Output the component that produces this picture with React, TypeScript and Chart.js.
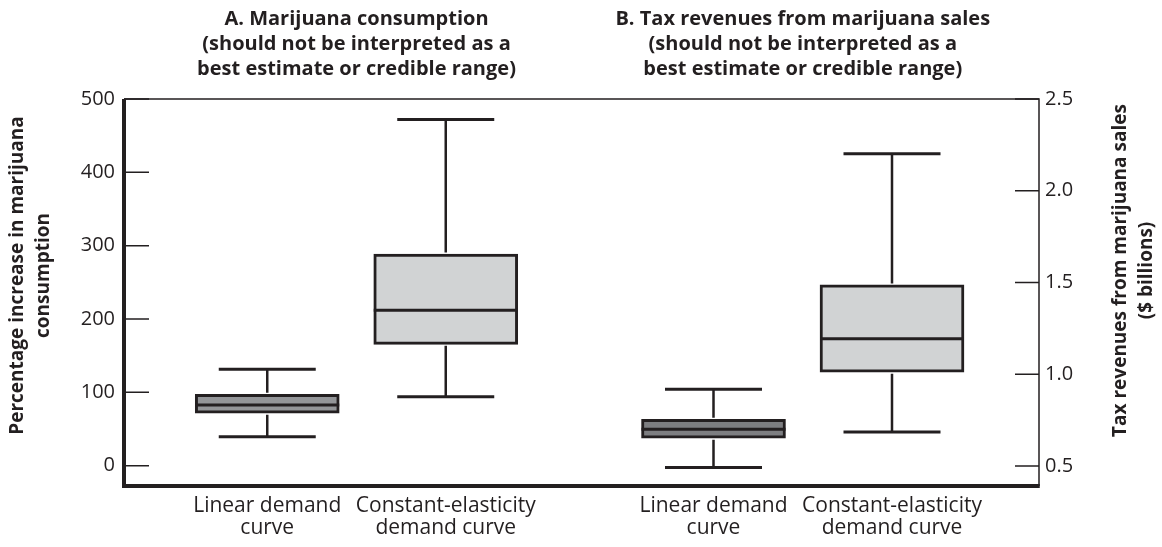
import { useEffect, useRef } from "react";
import { Chart, registerables } from "chart.js";

Chart.register(...registerables);

// ---- data ----
const categories: string[][] = [
  ["Linear demand", "curve"],
  ["Constant-elasticity", "demand curve"],
];
const panelTitles: string[][] = [
  ["A. Marijuana consumption", "(should not be interpreted as a", "best estimate or credible range)"],
  ["B. Tax revenues from marijuana sales", "(should not be interpreted as a", "best estimate or credible range)"],
];
const leftAxisTitle = ["Percentage increase in marijuana", "consumption"];
const rightAxisTitle = ["Tax revenues from marijuana sales", "($ billions)"];

// Panel A: percentage increase in consumption
const consumptionMin = [39.5, 94];
const consumptionQ1 = [71.5, 165.5];
const consumptionMedian = [82.8, 212];
const consumptionQ3 = [97.4, 288.7];
const consumptionMax = [131.5, 472];

// Panel B: tax revenues ($ billions)
const revenueMin = [0.492, 0.685];
const revenueQ1 = [0.651, 1.011];
const revenueMedian = [0.7, 1.193];
const revenueQ3 = [0.755, 1.487];
const revenueMax = [0.918, 2.202];

const leftTicks = [0, 100, 200, 300, 400, 500];
const rightTicks = [0.5, 1.0, 1.5, 2.0, 2.5];

// ---- layout / style ----
// category slots along the x axis (panel A uses slots 1 & 3, panel B slots 6 & 8)
const panelSlots = [
  [1, 3],
  [6, 8],
];
const X_MIN = -0.605;
const X_MAX = 9.647;
const INK = "#231f20";
const FONT = "'Open Sans', 'Noto Sans', sans-serif";
const fillsA = ["#939598", "#d1d3d4"];
const fillsB = ["#7d7e81", "#d1d3d4"];

type Box = { slot: number; axis: string; min: number; q1: number; med: number; q3: number; max: number };

const boxes: Box[] = [];
categories.forEach((_, i) => {
  boxes.push({
    slot: panelSlots[0][i], axis: "yL",
    min: consumptionMin[i], q1: consumptionQ1[i], med: consumptionMedian[i], q3: consumptionQ3[i], max: consumptionMax[i],
  });
});
categories.forEach((_, i) => {
  boxes.push({
    slot: panelSlots[1][i], axis: "yR",
    min: revenueMin[i], q1: revenueQ1[i], med: revenueMedian[i], q3: revenueQ3[i], max: revenueMax[i],
  });
});

const slotLabel: Record<number, string[]> = {};
panelSlots.forEach((slots) => slots.forEach((s, i) => (slotLabel[s] = categories[i])));
const xTickSlots = panelSlots.flat();

function panelData(p: number, q1: number[], q3: number[]) {
  return panelSlots[p].map((s, i) => ({ x: s, y: [q1[i], q3[i]] }));
}

const boxPlugin = {
  id: "boxExtras",
  afterDatasetsDraw(chart: any) {
    const ctx = chart.ctx;
    const xs = chart.scales.x;
    ctx.save();
    ctx.strokeStyle = INK;
    ctx.lineCap = "butt";
    boxes.forEach((b) => {
      const ys = chart.scales[b.axis];
      const cx = xs.getPixelForValue(b.slot);
      const half = 72;
      const capHalf = 48.5;
      const pMin = ys.getPixelForValue(b.min);
      const pMax = ys.getPixelForValue(b.max);
      const pQ1 = ys.getPixelForValue(b.q1);
      const pQ3 = ys.getPixelForValue(b.q3);
      const pMed = ys.getPixelForValue(b.med);
      ctx.lineWidth = 2.5;
      ctx.beginPath();
      ctx.moveTo(cx, pQ3 - 1.5);
      ctx.lineTo(cx, pMax);
      ctx.moveTo(cx, pQ1 + 1.5);
      ctx.lineTo(cx, pMin);
      ctx.stroke();
      ctx.lineWidth = 3;
      ctx.beginPath();
      ctx.moveTo(cx - capHalf, pMax);
      ctx.lineTo(cx + capHalf, pMax);
      ctx.moveTo(cx - capHalf, pMin);
      ctx.lineTo(cx + capHalf, pMin);
      ctx.moveTo(cx - half, pMed);
      ctx.lineTo(cx + half, pMed);
      ctx.stroke();
    });
    ctx.restore();
  },
  afterDraw(chart: any) {
    const ctx = chart.ctx;
    const { left, right, top, bottom } = chart.chartArea;
    const yL = chart.scales.yL;
    const yR = chart.scales.yR;
    const xs = chart.scales.x;
    ctx.save();
    ctx.strokeStyle = INK;
    // thin top & right frame
    ctx.lineWidth = 1.5;
    ctx.beginPath();
    ctx.moveTo(left, top);
    ctx.lineTo(right, top);
    ctx.lineTo(right, bottom);
    ctx.stroke();
    // inward ticks
    ctx.beginPath();
    yL.ticks.forEach((t: any) => {
      const y = yL.getPixelForValue(t.value);
      ctx.moveTo(left, y);
      ctx.lineTo(left + 25, y);
    });
    yR.ticks.forEach((t: any) => {
      const y = yR.getPixelForValue(t.value);
      ctx.moveTo(right - 24, y);
      ctx.lineTo(right, y);
    });
    ctx.stroke();
    // thick left & bottom axes
    ctx.lineWidth = 4;
    ctx.beginPath();
    ctx.moveTo(left, top);
    ctx.lineTo(left, bottom);
    ctx.lineTo(right + 0.75, bottom);
    ctx.stroke();

    // panel titles
    ctx.fillStyle = INK;
    ctx.font = `bold 20px ${FONT}`;
    ctx.textAlign = "center";
    ctx.textBaseline = "alphabetic";
    panelTitles.forEach((lines, p) => {
      const cx = (xs.getPixelForValue(panelSlots[p][0]) + xs.getPixelForValue(panelSlots[p][1])) / 2;
      lines.forEach((ln, i) => ctx.fillText(ln, cx, 25 + i * 25));
    });

    // rotated axis titles
    ctx.font = `bold 19px ${FONT}`;
    const drawRot = (lines: string[], cy: number, baseX: number) => {
      ctx.save();
      ctx.translate(0, cy);
      ctx.rotate(-Math.PI / 2);
      lines.forEach((ln, i) => ctx.fillText(ln, 0, baseX + i * 26));
      ctx.restore();
    };
    drawRot(leftAxisTitle, (top + bottom) / 2 - 17, left - 101);
    drawRot(rightAxisTitle, (top + bottom) / 2 - 22, right + 87);
    ctx.restore();
  },
};

export default function App() {
  const ref = useRef<HTMLCanvasElement | null>(null);
  useEffect(() => {
    if (!ref.current) return;
    const tickFont = { family: FONT, size: 20 };
    const barStyle = {
      borderColor: INK,
      borderWidth: 3,
      borderSkipped: false,
      barThickness: 144,
      grouped: false,
    };
    const chart = new Chart(ref.current, {
      type: "bar",
      data: {
        datasets: [
          {
            label: "Marijuana consumption",
            yAxisID: "yL",
            data: panelData(0, consumptionQ1, consumptionQ3) as any,
            backgroundColor: fillsA,
            ...barStyle,
          } as any,
          {
            label: "Tax revenues",
            yAxisID: "yR",
            data: panelData(1, revenueQ1, revenueQ3) as any,
            backgroundColor: fillsB,
            ...barStyle,
          } as any,
        ],
      },
      options: {
        animation: false,
        responsive: false,
        maintainAspectRatio: false,
        layout: { padding: { top: 99, left: 0, right: 0, bottom: 0 } },
        plugins: { legend: { display: false }, tooltip: { enabled: false }, title: { display: false } },
        scales: {
          x: {
            type: "linear",
            min: X_MIN,
            max: X_MAX,
            offset: false,
            grid: { display: false, drawTicks: false },
            border: { display: false },
            ticks: {
              autoSkip: false,
              maxRotation: 0,
              minRotation: 0,
              padding: 9,
              color: INK,
              font: { family: FONT, size: 21, lineHeight: 1.05 },
              callback: (v: any) => slotLabel[Math.round(Number(v))] || "",
            },
            afterBuildTicks: (s: any) => {
              s.ticks = xTickSlots.map((v) => ({ value: v }));
            },
            afterFit: (s: any) => {
              s.height = 61;
            },
          },
          yL: {
            type: "linear",
            position: "left",
            min: -27.7,
            max: 500,
            grid: { display: false, drawTicks: false },
            border: { display: false },
            ticks: { padding: 9, color: INK, font: tickFont },
            afterBuildTicks: (s: any) => {
              s.ticks = leftTicks.map((v) => ({ value: v }));
            },
            afterFit: (s: any) => {
              s.width = 124;
            },
          },
          yR: {
            type: "linear",
            position: "right",
            min: 0.391,
            max: 2.5,
            grid: { display: false, drawTicks: false },
            border: { display: false },
            ticks: {
              padding: 6,
              color: INK,
              font: tickFont,
              callback: (v: any) => Number(v).toFixed(1),
            },
            afterBuildTicks: (s: any) => {
              s.ticks = rightTicks.map((v) => ({ value: v }));
            },
            afterFit: (s: any) => {
              s.width = 123;
            },
          },
        },
      } as any,
      plugins: [boxPlugin],
    });
    return () => chart.destroy();
  }, []);
  return (
    <div style={{ position: "fixed", left: 0, top: 0, width: 1162, height: 547, background: "#fff" }}>
      <canvas ref={ref} width={1162} height={547} style={{ display: "block" }} />
    </div>
  );
}
